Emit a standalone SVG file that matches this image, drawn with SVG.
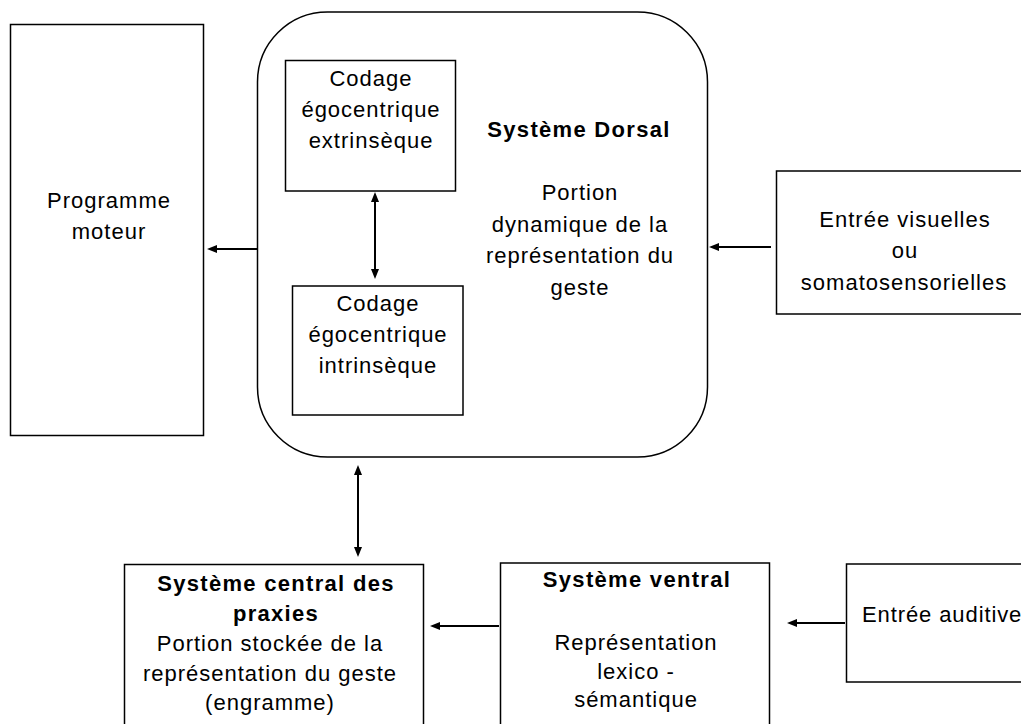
<svg xmlns="http://www.w3.org/2000/svg" width="1021" height="724" viewBox="0 0 1021 724">
<style>
.box{fill:#fff;stroke:#000;stroke-width:1.5}
.t{font-family:"Liberation Sans",Arial,sans-serif;font-size:22px;letter-spacing:1px;fill:#000;text-anchor:middle}
.b{font-weight:bold;letter-spacing:1.3px}
.c{fill:none;stroke:#000;stroke-width:2}
</style>
<defs>
<marker id="ah" markerUnits="userSpaceOnUse" viewBox="0 0 10 8" markerWidth="10" markerHeight="8" refX="7" refY="4" orient="auto-start-reverse">
<path d="M0,0 L10,4 L0,8 z" fill="#000"/>
</marker>
</defs>
<rect width="1021" height="724" fill="#fff"/>
<g id="programme-moteur">
<rect class="box" x="10.5" y="24.5" width="193" height="411"/>
<text class="t" x="109" y="208">Programme</text>
<text class="t" x="109" y="239">moteur</text>
</g>
<g id="systeme-dorsal">
<rect class="box" x="257.5" y="12" width="450" height="445" rx="70" ry="70"/>
<text class="t b" x="579" y="137">Système Dorsal</text>
<text class="t" x="580" y="200">Portion</text>
<text class="t" x="580" y="231.5">dynamique de la</text>
<text class="t" x="580" y="263">représentation du</text>
<text class="t" x="580" y="294.5">geste</text>
</g>
<g id="codage-extrinseque">
<rect class="box" x="285.5" y="60.5" width="170" height="130.5"/>
<text class="t" x="371" y="86">Codage</text>
<text class="t" x="371" y="117">égocentrique</text>
<text class="t" x="371" y="148">extrinsèque</text>
</g>
<g id="codage-intrinseque">
<rect class="box" x="292.5" y="286" width="170.5" height="129"/>
<text class="t" x="378" y="311">Codage</text>
<text class="t" x="378" y="342">égocentrique</text>
<text class="t" x="378" y="373">intrinsèque</text>
</g>
<g id="entree-visuelles">
<rect class="box" x="776.5" y="171" width="260" height="143"/>
<text class="t" x="905" y="226.5">Entrée visuelles</text>
<text class="t" x="905" y="258">ou</text>
<text class="t" x="904" y="289.5">somatosensorielles</text>
</g>
<g id="systeme-central">
<rect class="box" x="124.5" y="564.5" width="299" height="180"/>
<text class="t b" x="276" y="591">Système central des</text>
<text class="t b" x="276" y="621">praxies</text>
<text class="t" x="270" y="651">Portion stockée de la</text>
<text class="t" x="270" y="681">représentation du geste</text>
<text class="t" x="270" y="710">(engramme)</text>
</g>
<g id="systeme-ventral">
<rect class="box" x="500.5" y="563" width="269" height="180"/>
<text class="t b" x="637" y="587">Système ventral</text>
<text class="t" x="636" y="650">Représentation</text>
<text class="t" x="636" y="678.5">lexico -</text>
<text class="t" x="636" y="707">sémantique</text>
</g>
<g id="entree-auditive">
<rect class="box" x="846.5" y="564" width="200" height="118"/>
<text class="t" x="862" y="622" style="text-anchor:start;letter-spacing:0.9px">Entrée auditive</text>
</g>
<g id="connectors">
<line class="c" x1="257" y1="249" x2="210" y2="249" marker-end="url(#ah)"/>
<line class="c" x1="771" y1="247" x2="712" y2="247" marker-end="url(#ah)"/>
<line class="c" x1="375" y1="195" x2="375" y2="276" marker-start="url(#ah)" marker-end="url(#ah)"/>
<line class="c" x1="358" y1="468" x2="358" y2="554" marker-start="url(#ah)" marker-end="url(#ah)"/>
<line class="c" x1="499" y1="626" x2="433" y2="626" marker-end="url(#ah)"/>
<line class="c" x1="845" y1="623" x2="790" y2="623" marker-end="url(#ah)"/>
</g>
</svg>
